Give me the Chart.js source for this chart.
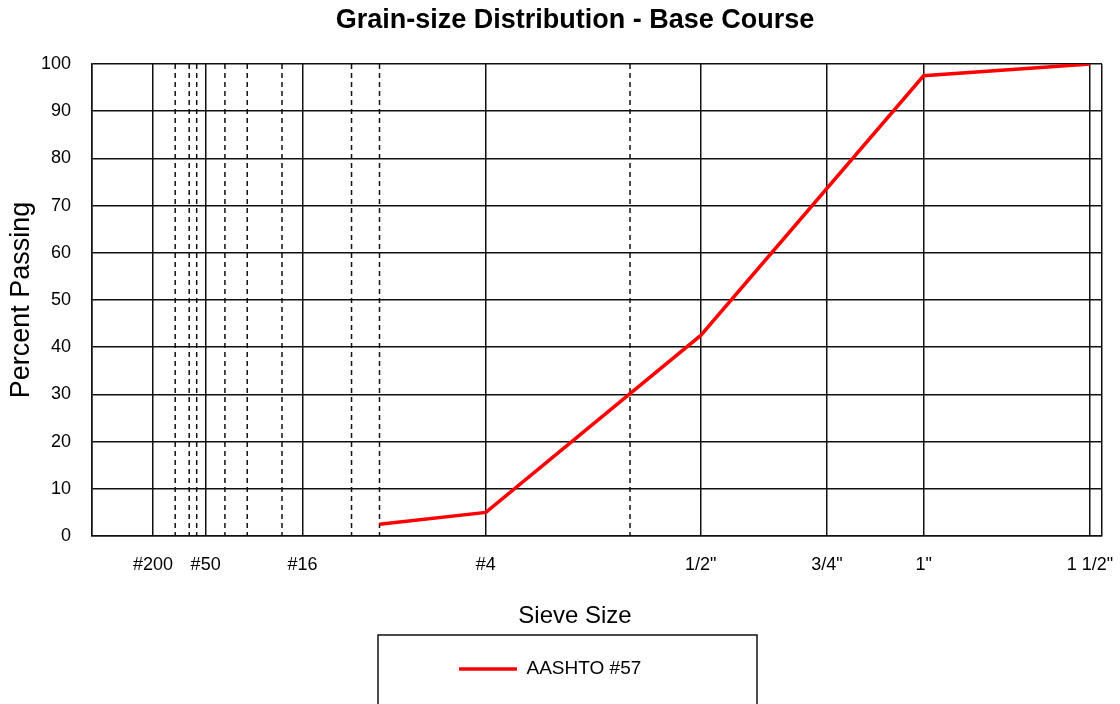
<!DOCTYPE html>
<html>
<head>
<meta charset="utf-8">
<script src="https://cdn.jsdelivr.net/npm/chart.js@4.4.0/dist/chart.umd.min.js"></script>
<style>
  html, body { margin: 0; padding: 0; background: #fff; }
  canvas { display: block; }
</style>
</head>
<body>
<canvas id="c" width="1120" height="704"></canvas>
<script>
// ---- data ----
const chartTitle = 'Grain-size Distribution - Base Course';
const xAxisTitle = 'Sieve Size';
const yAxisTitle = 'Percent Passing';
const seriesName = 'AASHTO #57';

// labelled sieves (solid lines) and their openings in mm
const majorSieveLabels = ['#200', '#50', '#16', '#4', '1/2"', '3/4"', '1"', '1 1/2"'];
const majorSieveMm = [0.075, 0.3, 1.18, 4.75, 12.5, 19, 25, 37.5];
// unlabelled sieves (dashed lines), mm
const minorSieveMm = [0.15, 0.212, 0.25, 0.425, 0.6, 0.94, 1.88, 2.36, 9.5];

// AASHTO #57 gradation
const seriesSieveMm = [2.36, 4.75, 12.5, 25, 37.5];
const seriesPercentPassing = [2.5, 5, 42.5, 97.5, 100];

const yMin = 0, yMax = 100, yStep = 10;

// 0.45-power gradation chart axis
const POWER = 0.45;
const xPos = mm => Math.pow(mm, POWER);
const xMin = 0, xMax = 5.17;

const LINE = '#111';
const FONT = '"Liberation Sans", Arial, sans-serif';

const minorLines = {
  id: 'minorLines',
  beforeDatasetsDraw(chart) {
    const { ctx, chartArea: a, scales: { x } } = chart;
    ctx.save();
    ctx.strokeStyle = LINE;
    ctx.lineWidth = 1.5;
    ctx.setLineDash([5, 4]);
    minorSieveMm.forEach(mm => {
      const px = x.getPixelForValue(xPos(mm));
      ctx.beginPath();
      ctx.moveTo(px, a.top);
      ctx.lineTo(px, a.bottom);
      ctx.stroke();
    });
    ctx.restore();
  }
};

// legend sits left of centre inside a framed box, as in the original
const LEGEND_ITEM_OFFSET = 429;
const legendBox = {
  id: 'legendBox',
  beforeDraw(chart) {
    const lg = chart.legend;
    if (!lg || !lg.lineWidths || !lg.lineWidths.length) return;
    const p = lg.options.labels.padding;
    lg.lineWidths[0] = lg.left + p + lg.right - 2 * (lg.left + LEGEND_ITEM_OFFSET);
  },
  afterDraw(chart) {
    const lg = chart.legend;
    if (!lg || !lg.legendHitBoxes || !lg.legendHitBoxes.length) return;
    const hb = lg.legendHitBoxes[0];
    const cy = hb.top + hb.height / 2;
    const ctx = chart.ctx;
    ctx.save();
    ctx.strokeStyle = LINE;
    ctx.lineWidth = 1.5;
    ctx.strokeRect(lg.left + 348, cy - 34, 379, 110);
    ctx.restore();
  }
};

new Chart(document.getElementById('c'), {
  type: 'scatter',
  data: {
    datasets: [{
      label: seriesName,
      data: seriesSieveMm.map((mm, i) => ({ x: xPos(mm), y: seriesPercentPassing[i] })),
      showLine: true,
      borderColor: '#ff0000',
      backgroundColor: '#ff0000',
      borderWidth: 3.5,
      pointRadius: 0,
      tension: 0
    }]
  },
  options: {
    responsive: false,
    animation: false,
    devicePixelRatio: 1,
    layout: { padding: { left: 30, right: 0, top: 0, bottom: 15.5 } },
    plugins: {
      tooltip: { enabled: false },
      title: {
        display: true,
        text: chartTitle,
        color: '#000',
        font: { family: FONT, size: 27, weight: 'bold' },
        padding: { top: 4, bottom: 27.6 }
      },
      legend: {
        position: 'bottom',
        labels: {
          usePointStyle: true,
          pointStyle: 'line',
          pointStyleWidth: 58,
          color: '#000',
          padding: 27.5,
          font: { family: FONT, size: 19 }
        }
      }
    },
    scales: {
      x: {
        type: 'linear',
        position: 'bottom',
        min: xMin,
        max: xMax,
        afterBuildTicks: s => {
          s.ticks = [xMin, ...majorSieveMm.map(xPos), xMax].map(v => ({ value: v }));
        },
        afterFit: s => { s.height = 40; },
        ticks: {
          autoSkip: false,
          maxRotation: 0,
          minRotation: 0,
          padding: 18,
          color: '#000',
          font: { family: FONT, size: 18 },
          callback: (v, i) => (i === 0 || i === majorSieveMm.length + 1) ? '' : majorSieveLabels[i - 1]
        },
        grid: { color: LINE, lineWidth: 1.5, drawTicks: false },
        border: { color: LINE, width: 1.5 },
        title: { display: false }
      },
      xTitle: {
        type: 'linear',
        position: 'bottom',
        fullSize: true,
        weight: 1,
        afterFit: s => { s.height = 56; },
        ticks: { display: false },
        grid: { display: false, drawTicks: false },
        border: { display: false },
        title: {
          display: true,
          text: xAxisTitle,
          color: '#000',
          font: { family: FONT, size: 24 },
          padding: { top: 0, bottom: 1 }
        }
      },
      y: {
        position: 'left',
        min: yMin,
        max: yMax,
        afterFit: s => { s.width = 62; },
        ticks: {
          stepSize: yStep,
          padding: 21,
          color: '#000',
          font: { family: FONT, size: 18 }
        },
        grid: { color: LINE, lineWidth: 1.5, drawTicks: false },
        border: { color: LINE, width: 1.5 },
        title: {
          display: true,
          text: yAxisTitle,
          color: '#000',
          font: { family: FONT, size: 27 },
          padding: { top: -25, bottom: 0 }
        }
      },
      yRight: {
        type: 'linear',
        position: 'right',
        afterFit: s => { s.width = 13; },
        ticks: { display: false },
        grid: { display: false, drawTicks: false },
        border: { display: false }
      }
    }
  },
  plugins: [minorLines, legendBox]
});
</script>
</body>
</html>
